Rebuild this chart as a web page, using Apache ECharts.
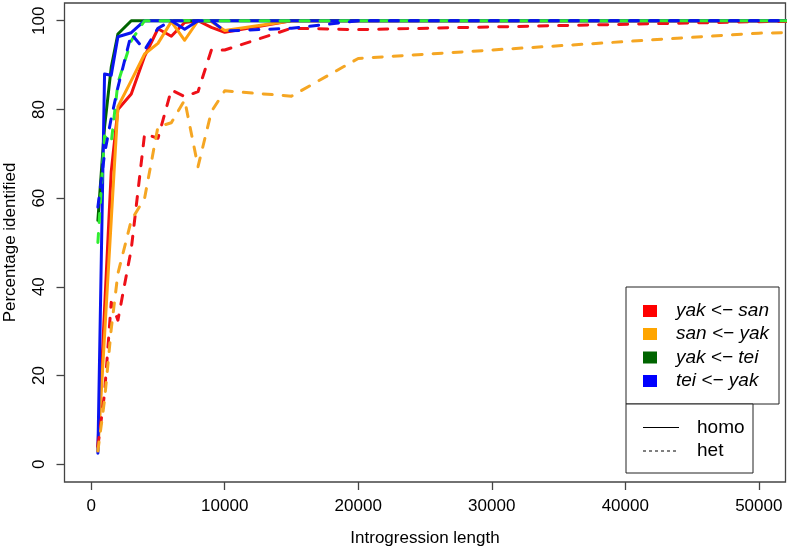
<!DOCTYPE html>
<html><head><meta charset="utf-8">
<script src="https://cdn.jsdelivr.net/npm/echarts@6/dist/echarts.min.js"></script>
<style>html,body{margin:0;padding:0;background:#fff}#c{width:789px;height:548px}</style>
</head><body><div id="c"></div>
<script>
// Introgression length (x values)
const lengths = [500,1000,1500,2000,3000,4000,5000,6000,7000,8000,9000,10000,15000,20000,50000,100000];
// Percentage identified, homozygous (solid)
const yakSanHomo = [4,35,66,80,83.5,92,98.2,96.5,99.6,100,98.5,97.4,100,100,100,100];
const sanYakHomo = [3,29,55,80.6,86.5,92.5,94.9,99.8,95.6,100,99.8,97.8,100,100,100,100];
const yakTeiHomo = [55,76,89.5,97,100,100,100,100,100,100,100,100,100,100,100,100];
const teiYakHomo = [2.5,88,87.7,96.4,97.3,100,100,100,98.1,100,100,100,100,100,100,100];
// Percentage identified, heterozygous (dashed)
const yakSanHet = [4,16,36.5,32.5,48.5,74.5,73.5,84.4,82.9,84,93.4,93.4,98.3,98,99.8,100];
const sanYakHet = [3,14.5,30.5,43,55,60,76.1,77,82.1,67.1,79.5,84.2,83,91.5,97.2,100];
const yakTeiHet = [50,74,72.5,86,95.5,100,100,100,100,100,100,100,100,100,100,100];
const teiYakHet = [58,70,78,85,97,93.4,98.3,100,100,100,100,97.7,98.3,100,100,100];

const xTicks = [0,10000,20000,30000,40000,50000];
const yTicks = [0,20,40,60,80,100];
const legendLabels = ['yak <\u2212 san','san <\u2212 yak','yak <\u2212 tei','tei <\u2212 yak'];
const legendColors = ['#FF0000','#FFA500','#006400','#0000FF'];
const typeLabels = ['homo','het'];

const FONT = 'Liberation Sans, Arial, Helvetica, sans-serif';
const pairs = arr => lengths.map((x,i)=>[x,arr[i]]);
function mk(name, data, color, dashed){
  return {
    name, type:'line', data:pairs(data), showSymbol:false, symbol:'none', clip:true,
    animation:false, silent:true,
    lineStyle:{color, width:3, type: dashed ? [9,11] : 'solid', cap:'round', join:'round'}
  };
}
const series = [
  mk('yakSanHomo', yakSanHomo, '#F01010', false),
  mk('sanYakHomo', sanYakHomo, '#FFA010', false),
  mk('yakTeiHomo', yakTeiHomo, '#006400', false),
  mk('teiYakHomo', teiYakHomo, '#0A14F0', false),
  mk('yakSanHet', yakSanHet, '#EE1018', true),
  mk('sanYakHet', sanYakHet, '#F5A623', true),
  mk('yakTeiHet', yakTeiHet, '#30EE30', true),
  mk('teiYakHet', teiYakHet, '#0A14F0', true)
];

const graphics = [];
graphics.push({type:'rect', shape:{x:626, y:287, width:153, height:117}, style:{fill:'#fff', stroke:'#222', lineWidth:1}, z:100});
graphics.push({type:'rect', shape:{x:626, y:404, width:127, height:69}, style:{fill:'#fff', stroke:'#222', lineWidth:1}, z:100});
const rowY = [311, 334, 357.5, 381];
legendLabels.forEach((t,i)=>{
  graphics.push({type:'rect', shape:{x:643, y:rowY[i]-6, width:14, height:12}, style:{fill:legendColors[i]}, z:101});
  graphics.push({type:'text', x:676, y:rowY[i], style:{text:t, fill:'#000', font:'italic 19px '+FONT, verticalAlign:'middle', align:'left'}, z:101});
});
const lineY = [427.5, 451];
graphics.push({type:'line', shape:{x1:643, y1:lineY[0], x2:679, y2:lineY[0]}, style:{stroke:'#000', lineWidth:1}, z:101});
graphics.push({type:'line', shape:{x1:643, y1:lineY[1], x2:679, y2:lineY[1]}, style:{stroke:'#000', lineWidth:1, lineDash:[3,3]}, z:101});
typeLabels.forEach((t,i)=>{
  graphics.push({type:'text', x:697, y:lineY[i], style:{text:t, fill:'#000', font:'19px '+FONT, verticalAlign:'middle', align:'left'}, z:101});
});

const chart = echarts.init(document.getElementById('c'), null, {renderer:'canvas'});
chart.setOption({
  animation:false,
  backgroundColor:'#fff',
  grid:{left:64.5, top:3, width:721, height:479, show:true, borderColor:'#444', borderWidth:1.3, backgroundColor:'transparent', containLabel:false, outerBoundsMode:'none'},
  xAxis:{
    type:'value', min:-2000, max:52000,
    axisLine:{show:false, onZero:false},
    axisTick:{show:true, length:8, customValues:xTicks, lineStyle:{color:'#444', width:1.3}},
    axisLabel:{customValues:xTicks, margin:16, fontSize:17, color:'#000', fontFamily:FONT, formatter:v=>String(v)},
    splitLine:{show:false},
    name:'Introgression length', nameLocation:'middle', nameGap:48,
    nameTextStyle:{fontSize:17, color:'#000', fontFamily:FONT}
  },
  yAxis:{
    type:'value', min:-4, max:104,
    axisLine:{show:false, onZero:false},
    axisTick:{show:true, length:8, customValues:yTicks, lineStyle:{color:'#444', width:1.3}},
    axisLabel:{customValues:yTicks, rotate:90, margin:17, fontSize:17, color:'#000', fontFamily:FONT, formatter:v=>String(v)},
    splitLine:{show:false},
    name:'Percentage identified', nameLocation:'middle', nameGap:46, nameRotate:90,
    nameTextStyle:{fontSize:17, color:'#000', fontFamily:FONT}
  },
  series,
  graphic:graphics
});
</script></body></html>
